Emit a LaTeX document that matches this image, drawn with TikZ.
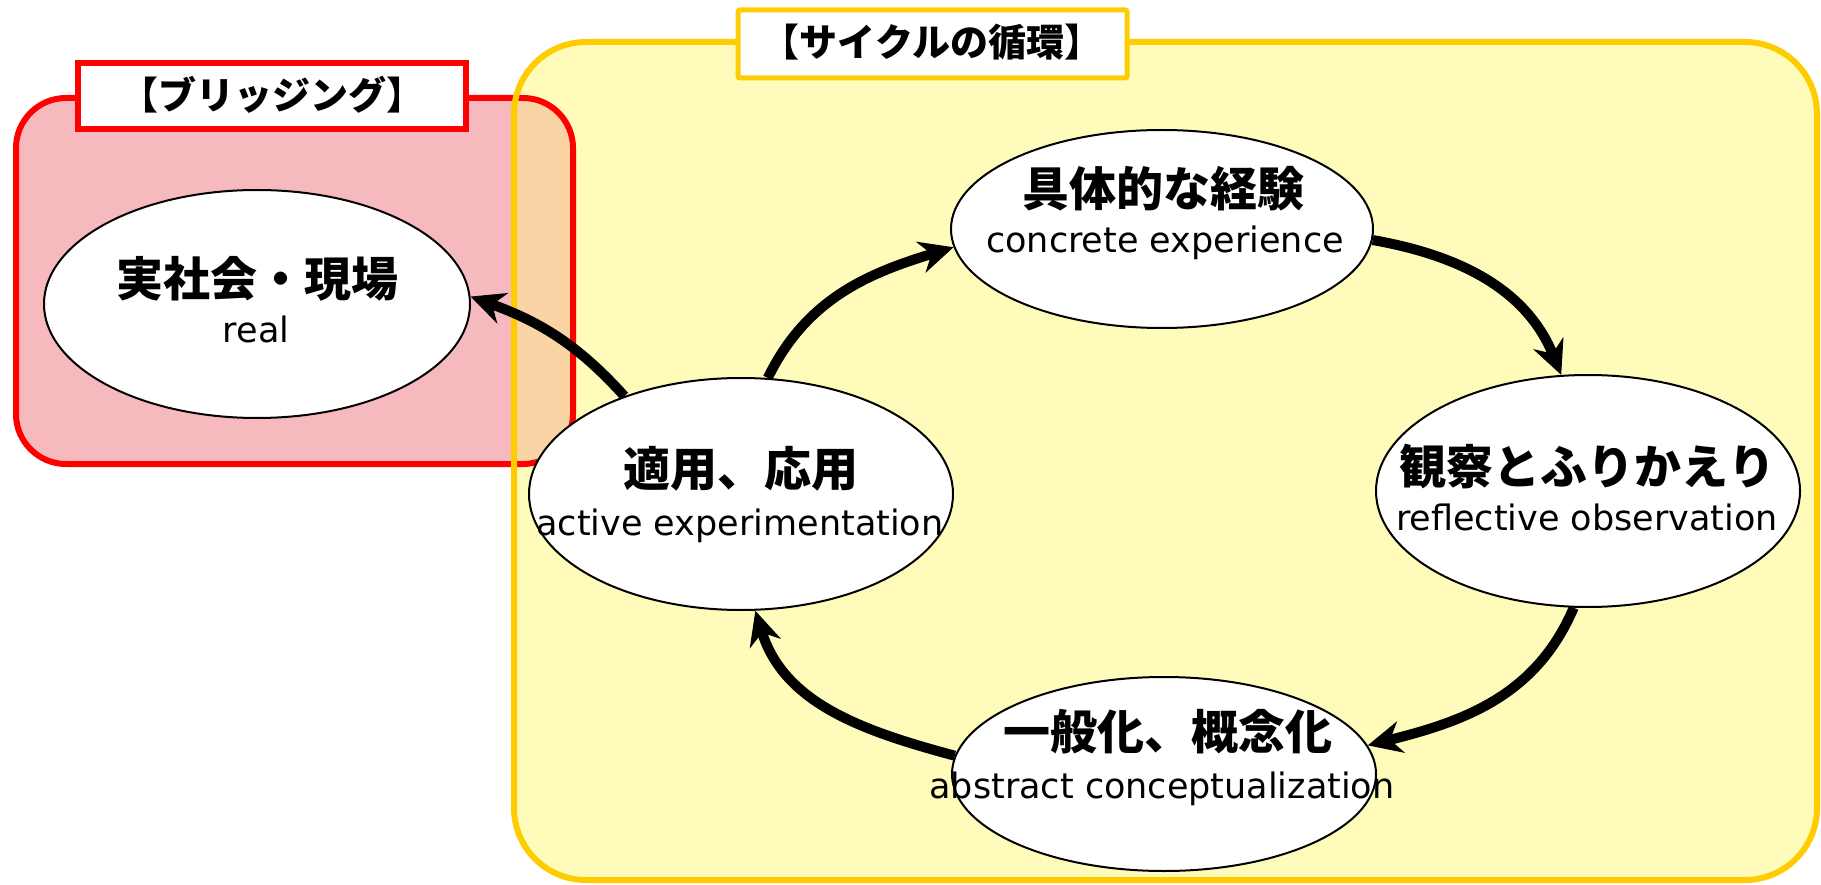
\documentclass[tikz,border=0pt]{standalone}
\usepackage{fontspec}
\setmainfont{DejaVu Sans}
\newfontfamily\jp{Noto Sans CJK JP}
\usetikzlibrary{arrows.meta,shapes.geometric}
\definecolor{boxred}{RGB}{255,0,0}
\definecolor{fillred}{RGB}{246,186,190}
\definecolor{boxyel}{RGB}{255,204,0}
\definecolor{fillyel}{RGB}{255,251,186}
\definecolor{filloverlap}{RGB}{251,212,165}
\begin{document}
\begin{tikzpicture}[x=1pt,y=-1pt,
  stage/.style={ellipse,draw=black,line width=2pt,fill=white,inner sep=0pt},
  jpt/.style={font=\jp\bfseries\fontsize{47}{52}\selectfont,inner sep=0pt,anchor=center},
  ent/.style={font=\fontsize{35}{40}\selectfont,inner sep=0pt,anchor=base},
  tit/.style={font=\jp\bfseries\fontsize{38}{42}\selectfont,inner sep=0pt,anchor=center},
  flow/.style={line width=10pt,-{Stealth[length=34pt,width=32pt,inset=11pt]}}
]
\useasboundingbox (0,0) rectangle (1821,885);
% group fills
\fill[fillyel,rounded corners=72pt] (514,42) rectangle (1817,880);
\fill[fillred,rounded corners=50pt] (16,98) rectangle (573,464);
\begin{scope}
  \clip[rounded corners=50pt] (16,98) rectangle (573,464);
  \fill[filloverlap,rounded corners=72pt] (514,42) rectangle (1817,880);
\end{scope}
\draw[boxred,line width=6pt,rounded corners=50pt] (16,98) rectangle (573,464);
\draw[boxyel,line width=6pt,rounded corners=72pt] (514,42) rectangle (1817,880);
% title boxes
\node[draw=boxred,line width=6pt,fill=white,minimum width=388pt,minimum height=66pt,inner sep=0pt] (tred) at (272,96) {};
\node[tit] (tredtxt) at (272,95) {【ブリッジング】};
\node[draw=boxyel,line width=5pt,fill=white,rounded corners=2pt,minimum width=389pt,minimum height=68pt,inner sep=0pt] (tyel) at (932.5,44) {};
\node[tit] (tyeltxt) at (932,42) {【サイクルの循環】};
% stages
\node[stage,minimum width=426pt,minimum height=228pt] (re) at (257,304) {};
\node[stage,minimum width=422pt,minimum height=198pt] (ce) at (1162,229) {};
\node[stage,minimum width=424pt,minimum height=232pt] (oe) at (1588,491) {};
\node[stage,minimum width=424pt,minimum height=232pt] (ae) at (741,494) {};
\node[stage,minimum width=424pt,minimum height=194pt] (ge) at (1164,774) {};
% connectors
\draw[flow] (ae.77) to[out=64,in=197] (ce.185);
\draw[flow] (ce.-3) to[out=-10,in=112] (oe.103);
\draw[flow] (oe.263) to[out=247,in=14] (ge.8);
\draw[flow] (ge.175) to[out=165,in=-73] (ae.-83);
\draw[flow] (ae.140) to[out=132,in=-20] (re.2);
% texts
\node[jpt] (rej) at (257,279) {実社会・現場};
\node[ent] (ree) at (256,343) {real};
\node[jpt] (cej) at (1163,189) {具体的な経験};
\node[ent] (cee) at (1165,253) {concrete experience};
\node[jpt] (oej) at (1587,467) {観察とふりかえり};
\node[ent] (oee) at (1587,530) {reflective observation};
\node[jpt] (aej) at (741,469) {適用、応用};
\node[ent] (aee) at (740,535) {active experimentation};
\node[jpt] (gej) at (1168,732) {一般化、概念化};
\node[ent] (gee) at (1162,798) {abstract conceptualization};
\end{tikzpicture}
\end{document}
